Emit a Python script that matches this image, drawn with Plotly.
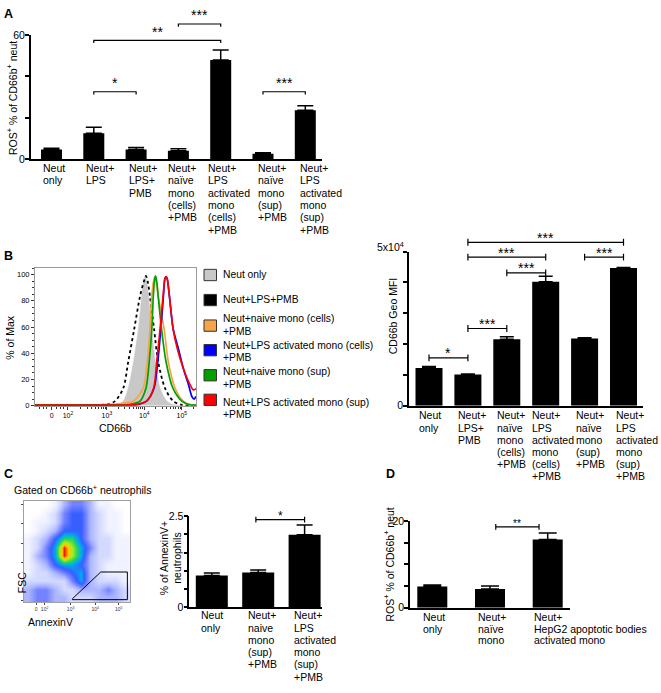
import math
import plotly.graph_objects as go

W, H = 661, 693
FONT = "Liberation Sans, Arial, Helvetica, sans-serif"


def fx(p):
    return p / W


def fy(p):
    return 1 - p / H


# ======================= DATA =======================
# ---- Panel A : ROS+ % of CD66b+ neutrophils
a_labels = ["Neut\nonly", "Neut+\nLPS", "Neut+\nLPS+\nPMB",
            "Neut+\nnaïve\nmono\n(cells)\n+PMB",
            "Neut+\nLPS\nactivated\nmono\n(cells)\n+PMB",
            "Neut+\nnaïve\nmono\n(sup)\n+PMB",
            "Neut+\nLPS\nactivated\nmono\n(sup)\n+PMB"]
a_values = [4.7, 12.6, 4.7, 4.1, 47.9, 2.7, 23.7]
a_errors = [0.6, 2.9, 1.0, 1.0, 4.8, 0.5, 2.1]
a_yticks = [0, 20, 40, 60]
a_yticktext = ["0", "", "", "60"]
a_sig_from = [1, 1, 3, 5]
a_sig_to = [2, 4, 4, 6]
a_sig_level = [32.6, 57.4, 65.3, 32.6]
a_sig_text = ["*", "**", "***", "***"]

# ---- Panel B (left) : CD66b histograms (x in display decades, y in % of max)
hist_names = ["Neut only", "Neut+LPS+PMB", "Neut+naive mono (cells)\n+PMB",
              "Neut+LPS activated mono (cells)\n+PMB", "Neut+naive mono (sup)\n+PMB",
              "Neut+LPS activated mono (sup)\n+PMB"]
hist_neut_x = [1.08, 2.8, 3.1, 3.31, 3.44, 3.57, 3.71, 3.84, 3.93, 3.975, 4.02, 4.065, 4.11, 4.2, 4.29, 4.42, 4.6, 4.77, 5.0, 5.38]
hist_neut_y = [0, 0, 0.2, 0.8, 3.5, 13.5, 33.5, 58.5, 83.5, 94, 98.5, 94, 83.5, 58.5, 33.5, 13.5, 3.5, 0.8, 0.2, 0]
hist_lps_x = [1.08, 2.6, 3.0, 3.22, 3.44, 3.57, 3.73, 3.885, 3.99, 4.045, 4.095, 4.15, 4.26, 4.37, 4.55, 4.77, 5.0, 5.38]
hist_lps_y = [0.4, 0.4, 1.0, 3.5, 13.5, 33.5, 58.5, 83.5, 95, 99, 94, 83.5, 58.5, 33.5, 13.5, 3.5, 0.6, 0.3]
hist_naive_cells_x = [1.08, 2.6, 2.9, 3.35, 3.71, 3.97, 4.08, 4.15, 4.2, 4.24, 4.28, 4.32, 4.37, 4.53, 4.64, 4.82, 5.04, 5.26, 5.38]
hist_naive_cells_y = [0.4, 0.4, 0.8, 1.5, 3.5, 13.5, 33.5, 58.5, 83.5, 94, 98.5, 94, 83.5, 58.5, 33.5, 13.5, 3.5, 0.6, 0.4]
hist_act_cells_x = [1.08, 3.0, 3.5, 3.8, 4.06, 4.26, 4.36, 4.44, 4.51, 4.55, 4.58, 4.61, 4.67, 4.77, 4.91, 5.04, 5.18, 5.27, 5.33, 5.38]
hist_act_cells_y = [0.4, 0.4, 0.5, 0.8, 3.5, 13.5, 33.5, 58.5, 83.5, 97, 98.5, 97, 83.5, 58.5, 43.5, 28.5, 16, 7, 5, 7]
hist_naive_sup_x = [1.08, 3.3, 3.62, 3.885, 4.045, 4.13, 4.2, 4.24, 4.27, 4.3, 4.335, 4.37, 4.46, 4.58, 4.76, 5.0, 5.22, 5.38]
hist_naive_sup_y = [0.6, 0.6, 1.0, 3.5, 13.5, 33.5, 58.5, 83.5, 95, 99, 94, 83.5, 58.5, 33.5, 13.5, 3.5, 0.6, 0.4]
hist_act_sup_x = [1.08, 3.0, 3.5, 3.8, 4.06, 4.25, 4.33, 4.42, 4.5, 4.55, 4.58, 4.61, 4.67, 4.77, 4.88, 5.04, 5.22, 5.31, 5.38]
hist_act_sup_y = [0.4, 0.4, 0.5, 1.0, 3.5, 13.5, 33.5, 58.5, 83.5, 97, 98.5, 97, 83.5, 58.5, 43.5, 28.5, 16, 12, 13]
hist_colors = ["#c8c8c8", "#000000", "#f8a346", "#0000ff", "#00a000", "#ff0000"]
hist_xtick_pos = [1.526, 1.96, 3, 4, 5]
hist_xtick_text = ["0", "10<sup>2</sup>", "10<sup>3</sup>", "10<sup>4</sup>", "10<sup>5</sup>"]
hist_yticks = [0, 20, 40, 60, 80, 100]

# ---- Panel B (right) : CD66b Geo MFI
b_labels = ["Neut\nonly", "Neut+\nLPS+\nPMB",
            "Neut+\nnaïve\nmono\n(cells)\n+PMB",
            "Neut+\nLPS\nactivated\nmono\n(cells)\n+PMB",
            "Neut+\nnaïve\nmono\n(sup)\n+PMB",
            "Neut+\nLPS\nactivated\nmono\n(sup)\n+PMB"]
b_values = [12200, 10100, 21600, 40200, 21800, 44700]
b_errors = [550, 200, 750, 1800, 250, 200]
b_yticks = [0, 10000, 20000, 30000, 40000, 50000]
b_yticktext = ["0", "", "", "", "", ""]
b_top_label = "5x10<sup>4</sup>"
b_sig_from = [0, 1, 2, 1, 1, 4]
b_sig_to = [1, 2, 3, 3, 5, 5]
b_sig_level = [15500, 25050, 43130, 48250, 53040, 48250]
b_sig_text = ["*", "***", "***", "***", "***", "***"]

# ---- Panel C (left) : AnnexinV vs FSC density (rows top -> bottom, 0-10 scale)
c_density = [
    [0, 0, 0, 1, 3, 4, 4, 3, 1, 1, 0, 0],
    [0, 0, 1, 2, 4, 5, 5, 3, 2, 1, 1, 0],
    [0, 1, 1, 2, 4, 5, 5, 3, 2, 1, 1, 0],
    [0, 1, 2, 3, 5, 5, 5, 3, 2, 1, 1, 0],
    [1, 2, 3, 5, 7, 7, 5, 3, 2, 2, 1, 1],
    [1, 2, 4, 6, 10, 8, 6, 4, 2, 2, 1, 1],
    [1, 3, 4, 6, 10, 8, 6, 3, 2, 2, 1, 1],
    [1, 2, 3, 5, 6, 6, 5, 3, 2, 1, 1, 1],
    [1, 2, 2, 3, 4, 5, 6, 3, 2, 1, 1, 1],
    [2, 2, 2, 2, 2, 4, 6, 3, 2, 2, 2, 1],
    [3, 4, 4, 3, 2, 2, 3, 3, 3, 4, 3, 2],
    [3, 4, 4, 3, 3, 2, 2, 2, 3, 3, 3, 2],
]
c_gate_x = [0.457, 0.726, 0.978, 0.978, 0.457, 0.457]
c_gate_y = [0.033, 0.297, 0.297, 0.025, 0.025, 0.033]
flow_xtick_pos = [0.116, 0.195, 0.441, 0.674, 0.896]
flow_xtick_text = ["0", "10<sup>2</sup>", "10<sup>3</sup>", "10<sup>4</sup>", "10<sup>5</sup>"]

# ---- Panel C (right) : % AnnexinV+ neutrophils
c_labels = ["Neut\nonly", "Neut+\nnaive\nmono\n(sup)\n+PMB",
            "Neut+\nLPS\nactivated\nmono\n(sup)\n+PMB"]
c_values = [0.87, 0.95, 1.99]
c_errors = [0.07, 0.07, 0.27]
c_yticks = [0, 0.5, 1.0, 1.5, 2.0, 2.5]
c_yticktext = ["0", "", "", "", "", "2.5"]
c_sig_from = [0.95]
c_sig_to = [2.0]
c_sig_level = [2.41]
c_sig_text = ["*"]

# ---- Panel D : ROS+ % of CD66b+ neutrophils
d_labels = ["Neut\nonly", "Neut+\nnaïve\nmono",
            "Neut+\nHepG2 apoptotic bodies\nactivated mono"]
d_values = [4.9, 4.3, 15.8]
d_errors = [0.35, 0.7, 1.5]
d_yticks = [0, 5, 10, 15, 20]
d_yticktext = ["0", "", "", "", "20"]
d_sig_from = [1.1]
d_sig_to = [1.85]
d_sig_level = [18.7]
d_sig_text = ["**"]

# ======================= FIGURE =======================
fig = go.Figure()
layout = dict(width=W, height=H, margin=dict(l=0, r=0, t=0, b=0),
              paper_bgcolor="white", plot_bgcolor="rgba(0,0,0,0)", showlegend=False,
              font=dict(family=FONT, color="black", size=10.5))
annotations = []
shapes = []


def axkey(a):
    return ("xaxis" if a[0] == "x" else "yaxis") + a[1:]


def text_ann(x, y, text, size=10.5, xanchor="center", yanchor="middle", angle=0,
             xref="paper", yref="paper", xshift=0, align="center"):
    annotations.append(dict(x=x, y=y, xref=xref, yref=yref, text=text, showarrow=False,
                            xanchor=xanchor, yanchor=yanchor, textangle=angle, xshift=xshift,
                            borderpad=0, align=align,
                            font=dict(family=FONT, size=size, color="black")))


bar_panels = [
    dict(xa="x", ya="y", yb="y7", labels=a_labels, values=a_values, errors=a_errors,
         yticks=a_yticks, ytext=a_yticktext,
         sig=(a_sig_from, a_sig_to, a_sig_level, a_sig_text),
         left=30.7, right=322, bottom=156, top=29.5, ymax=60, c0=51.5, step=42.3,
         barw=21, cap=8, ext_top=0, style="down", tick_px=2.7, star_px=9.0, star_size=14,
         label_top=165, label_step=12.5, label_dx=[-9.8, -8.8, -8.1, -11.4, -14, -6, -6.3]),
    dict(xa="x3", ya="y3", yb="y8", labels=b_labels, values=b_values, errors=b_errors,
         yticks=b_yticks, ytext=b_yticktext,
         sig=(b_sig_from, b_sig_to, b_sig_level, b_sig_text),
         left=409, right=643, bottom=406.7, top=250, ymax=50000, c0=429, step=38.9,
         barw=27, cap=7, ext_top=222, style="H", tick_px=3.5, star_px=4.5, star_size=14,
         label_top=416.7, label_step=12.4, label_dx=[-11.3, -11.2, -11.1, -14.7, -9.6, -8.5]),
    dict(xa="x5", ya="y5", yb="y9", labels=c_labels, values=c_values, errors=c_errors,
         yticks=c_yticks, ytext=c_yticktext,
         sig=(c_sig_from, c_sig_to, c_sig_level, c_sig_text),
         left=189.3, right=322, bottom=611.7, top=519.3, ymax=2.5, c0=211.8, step=46.4,
         barw=32, cap=8, ext_top=500, style="H", tick_px=3, star_px=4, star_size=12,
         label_top=620, label_step=12.5, label_dx=[-11.8, -11.5, -11.3]),
    dict(xa="x6", ya="y6", yb="y10", labels=d_labels, values=d_values, errors=d_errors,
         yticks=d_yticks, ytext=d_yticktext,
         sig=(d_sig_from, d_sig_to, d_sig_level, d_sig_text),
         left=410, right=570, bottom=612.3, top=524.3, ymax=20, c0=432.3, step=57.7,
         barw=30, cap=9, ext_top=505, style="H", tick_px=3, star_px=3.5, star_size=10,
         label_top=621.5, label_step=12, label_dx=[-10.6, -12.7, -15]),
]

for p in bar_panels:
    n = len(p["values"])
    xr = [(p["left"] - p["c0"]) / p["step"], (p["right"] - p["c0"]) / p["step"]]
    ppu = (p["bottom"] - p["top"]) / p["ymax"]
    layout[axkey(p["xa"])] = dict(domain=[fx(p["left"]), fx(p["right"])], range=xr,
                                  anchor=p["ya"], showline=True, linecolor="black", linewidth=1.5,
                                  ticks="", showticklabels=False, showgrid=False, zeroline=False)
    layout[axkey(p["ya"])] = dict(domain=[fy(p["bottom"]), fy(p["top"])], range=[0, p["ymax"]],
                                  anchor=p["xa"], showline=True, linecolor="black", linewidth=1.5,
                                  ticks="outside", ticklen=4, tickwidth=1.5, tickcolor="black",
                                  tickvals=p["yticks"], ticktext=p["ytext"], ticklabelstandoff=-2,
                                  tickfont=dict(size=10.5, family=FONT, color="black"),
                                  showgrid=False, zeroline=False)
    ext_range = p["ymax"] * (p["bottom"] - p["ext_top"]) / (p["bottom"] - p["top"])
    layout[axkey(p["yb"])] = dict(domain=[fy(p["bottom"]), fy(p["ext_top"])], range=[0, ext_range],
                                  anchor=p["xa"], visible=False, showgrid=False, zeroline=False)
    fig.add_trace(go.Bar(x=list(range(n)), y=p["values"], width=p["barw"] / p["step"],
                         xaxis=p["xa"], yaxis=p["ya"], marker=dict(color="black", line=dict(width=0)),
                         error_y=dict(type="data", symmetric=False, array=p["errors"],
                                      arrayminus=[0] * n, color="black", thickness=1.5,
                                      width=p["cap"])))
    # significance brackets
    s_from, s_to, s_lvl, s_txt = p["sig"]
    t = p["tick_px"] / ppu
    bx, by = [], []
    for x0, x1, h in zip(s_from, s_to, s_lvl):
        if p["style"] == "down":
            bx += [x0, x0, x1, x1, None]
            by += [h - t, h, h, h - t, None]
        else:
            bx += [x0, x0, None, x0, x1, None, x1, x1, None]
            by += [h - t, h + t, None, h, h, None, h - t, h + t, None]
    fig.add_trace(go.Scatter(x=bx, y=by, xaxis=p["xa"], yaxis=p["yb"], mode="lines",
                             line=dict(color="black", width=1.2), hoverinfo="skip"))
    for x0, x1, h, s in zip(s_from, s_to, s_lvl, s_txt):
        text_ann((x0 + x1) / 2, h + p["star_px"] / ppu, s, size=p["star_size"],
                 xref=p["xa"], yref=p["yb"], yanchor="middle")
    # category labels (left aligned, one annotation per line)
    for i, lab in enumerate(p["labels"]):
        for j, line in enumerate(lab.split("\n")):
            text_ann(i, fy(p["label_top"] + j * p["label_step"]), line, size=10.5,
                     xref=p["xa"], xanchor="left", xshift=p["label_dx"][i])

# top tick label of the MFI axis sits slightly above its tick in the reference
text_ann(fx(405), fy(245), b_top_label, xanchor="right")

# ---- histogram panel (B left)
hist_x = [hist_neut_x, hist_lps_x, hist_naive_cells_x, hist_act_cells_x, hist_naive_sup_x, hist_act_sup_x]
hist_y = [hist_neut_y, hist_lps_y, hist_naive_cells_y, hist_act_cells_y, hist_naive_sup_y, hist_act_sup_y]
fig.add_trace(go.Scatter(x=hist_x[0], y=hist_y[0], xaxis="x2", yaxis="y2", mode="lines",
                         fill="tozeroy", fillcolor=hist_colors[0],
                         line=dict(color=hist_colors[0], width=0.5, shape="spline", smoothing=0.8)))
fig.add_trace(go.Scatter(x=hist_x[1], y=hist_y[1], xaxis="x2", yaxis="y2", mode="lines",
                         line=dict(color=hist_colors[1], width=1.8, dash="dot", shape="spline", smoothing=0.8)))
for k in [2, 3, 4, 5]:
    fig.add_trace(go.Scatter(x=hist_x[k], y=hist_y[k], xaxis="x2", yaxis="y2", mode="lines",
                             line=dict(color=hist_colors[k], width=1.7, shape="spline", smoothing=0.8)))

minor_x = [1.2, 1.3, 1.4, 1.65, 1.75, 1.85]
for dec in [2, 3, 4, 5]:
    for m in range(2, 10):
        v = dec + math.log10(m)
        if v < 5.38:
            minor_x.append(v)
layout["xaxis2"] = dict(domain=[fx(35), fx(196)], range=[1.08, 5.38], anchor="y2",
                        showline=True, mirror=True, linecolor="#9a9a9a", linewidth=1,
                        ticks="outside", ticklen=3, tickcolor="#333", tickwidth=1,
                        tickvals=hist_xtick_pos, ticktext=hist_xtick_text,
                        tickfont=dict(size=7, family=FONT, color="black"),
                        minor=dict(tickvals=minor_x, ticks="outside", ticklen=2, tickcolor="#333"),
                        showgrid=False, zeroline=False)
layout["yaxis2"] = dict(domain=[fy(406.7), fy(266.7)], range=[0, 105], anchor="x2",
                        showline=True, mirror=True, linecolor="#9a9a9a", linewidth=1,
                        ticks="outside", ticklen=3, tickcolor="#333", tickwidth=1,
                        tickvals=hist_yticks, tickfont=dict(size=7.5, family=FONT, color="black"),
                        minor=dict(dtick=5, ticks="outside", ticklen=2, tickcolor="#333"),
                        showgrid=False, zeroline=False)

# legend for histogram (swatches + text)
leg_swatch_top = [268, 293.5, 319.5, 344.5, 370, 395]
leg_text_first = [273.7, 299, 318.5, 345, 372, 403]
for k, name in enumerate(hist_names):
    shapes.append(dict(type="rect", xref="paper", yref="paper", x0=fx(204), x1=fx(216.5),
                       y0=fy(leg_swatch_top[k] + 11.5), y1=fy(leg_swatch_top[k]),
                       fillcolor=hist_colors[k], line=dict(color="#333", width=1)))
    for j, line in enumerate(name.split("\n")):
        text_ann(fx(221.5), fy(leg_text_first[k] + j * 13), line, size=10.3, xanchor="left")

# ---- flow density panel (C left)
nrow = len(c_density)
ncol = len(c_density[0])
fig.add_trace(go.Heatmap(z=c_density[::-1], x=[(c + 0.5) / ncol for c in range(ncol)],
                         y=[(r + 0.5) / nrow for r in range(nrow)], xaxis="x4", yaxis="y4",
                         zmin=0, zmax=10, zsmooth="best", showscale=False, hoverinfo="skip",
                         colorscale=[[0, "rgb(255,255,255)"], [0.1, "rgb(240,242,255)"],
                                     [0.2, "rgb(212,218,255)"], [0.3, "rgb(172,182,255)"],
                                     [0.4, "rgb(115,130,255)"], [0.5, "rgb(55,95,255)"],
                                     [0.6, "rgb(0,170,240)"], [0.7, "rgb(40,215,90)"],
                                     [0.8, "rgb(170,235,30)"], [0.9, "rgb(255,200,0)"],
                                     [1.0, "rgb(235,30,0)"]]))
fig.add_trace(go.Scatter(x=c_gate_x, y=c_gate_y, xaxis="x4", yaxis="y4", mode="lines",
                         line=dict(color="black", width=1), hoverinfo="skip"))
layout["xaxis4"] = dict(domain=[fx(24), fx(129.7)], range=[0, 1], anchor="y4",
                        showline=True, mirror=True, linecolor="#a0a0a0", linewidth=1,
                        ticks="outside", ticklen=2, tickcolor="#444",
                        tickvals=flow_xtick_pos, ticktext=flow_xtick_text,
                        tickfont=dict(size=5, family=FONT, color="#333"),
                        showgrid=False, zeroline=False)
layout["yaxis4"] = dict(domain=[fy(606.7), fy(503.3)], range=[0, 1], anchor="x4",
                        showline=True, mirror=True, linecolor="#a0a0a0", linewidth=1,
                        ticks="outside", ticklen=2, tickcolor="#444",
                        tickvals=[0.02, 0.2, 0.39, 0.575, 0.77, 0.96], showticklabels=False,
                        showgrid=False, zeroline=False)

# ---- free texts
text_ann(fx(3), fy(8), "<b>A</b>", size=12.5, xanchor="left")
text_ann(fx(3), fy(254.5), "<b>B</b>", size=12.5, xanchor="left")
text_ann(fx(3), fy(476), "<b>C</b>", size=12.5, xanchor="left")
text_ann(fx(385), fy(476), "<b>D</b>", size=12.5, xanchor="left")
text_ann(fx(11.7), fy(94), "ROS<sup>+</sup> % of CD66b<sup>+</sup> neut", angle=-90)
text_ann(fx(10.5), fy(337), "% of Max", angle=-90)
text_ann(fx(115), fy(429), "CD66b", size=10.5)
text_ann(fx(392.7), fy(316), "CD66b Geo MFI", angle=-90)
text_ann(fx(12.7), fy(491.7), "Gated on CD66b<sup>+</sup> neutrophils", xanchor="left")
text_ann(fx(21.7), fy(586.7), "FSC", angle=-90)
text_ann(fx(50), fy(626.7), "AnnexinV")
text_ann(fx(171), fy(562), "% of AnnexinV+<br>neutrophils", angle=-90)
text_ann(fx(388.3), fy(568), "ROS<sup>+</sup> % of CD66b<sup>+</sup> neut", angle=-90)

layout["annotations"] = annotations
layout["shapes"] = shapes
fig.update_layout(**layout)
# remove the browser's default 8px page margin so the figure sits at the window origin
fig.write_html("out.html", config={"displayModeBar": False},
               post_script="document.body.style.margin='0';document.body.style.overflow='hidden';")
